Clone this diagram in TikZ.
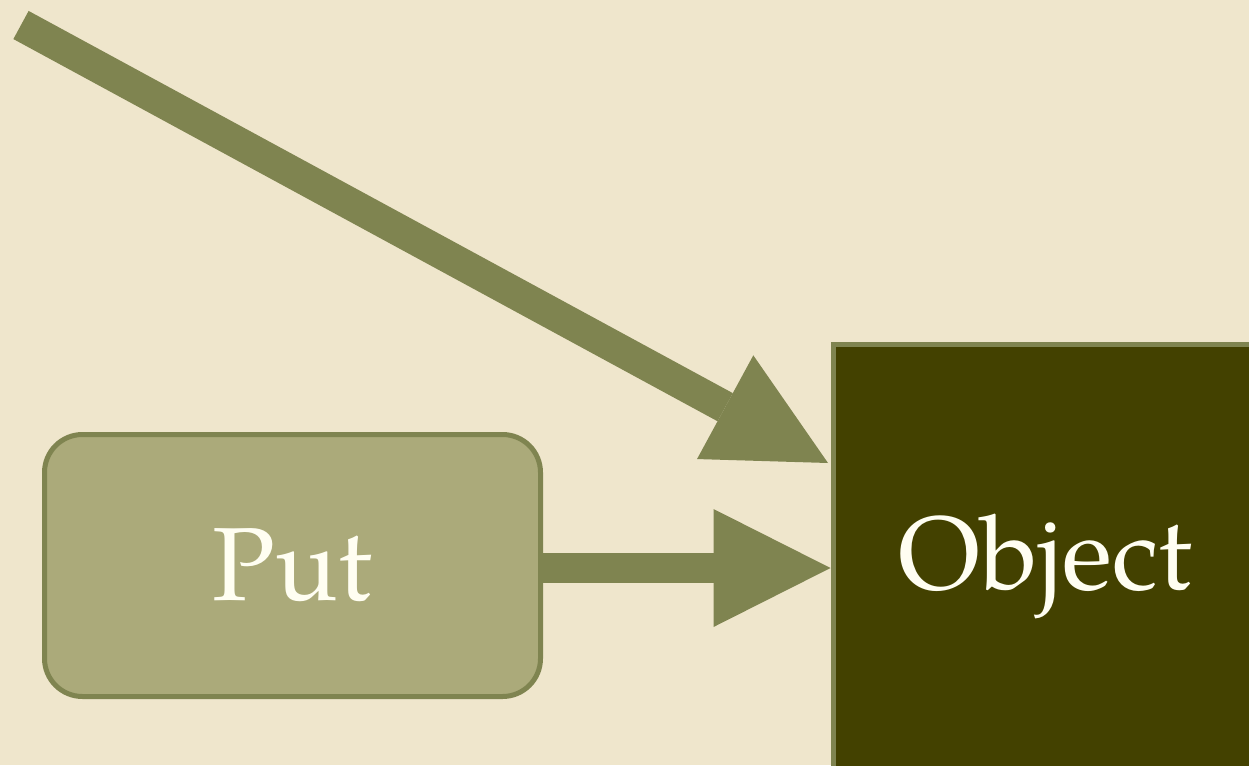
\documentclass[tikz,border=0pt]{standalone}
\usepackage{fontspec}
\setmainfont{texgyrepagella-regular.otf}
\usetikzlibrary{arrows.meta}
\definecolor{bg}{HTML}{EFE6CC}
\definecolor{arrowc}{HTML}{7F8450}
\definecolor{putfill}{HTML}{ABAA7A}
\definecolor{objfill}{HTML}{434100}
\definecolor{txt}{HTML}{FFFEF2}
\tikzset{
  putbox/.style={draw=arrowc, line width=5pt, fill=putfill, rounded corners=38pt,
    minimum width=496pt, minimum height=262pt, inner sep=0pt,
    text=txt, font=\fontsize{104}{120}\selectfont},
  objbox/.style={draw=arrowc, line width=5pt, fill=objfill,
    minimum width=425pt, minimum height=444pt, inner sep=0pt,
    text=txt, font=\fontsize{104}{120}\selectfont},
  bigarrow/.style={draw=arrowc, line width=30pt,
    -{Triangle[length=117pt, width=118pt, line width=0pt]}, arrowc}
}
\begin{document}
\begin{tikzpicture}[x=1pt,y=-1pt]
\fill[bg] (0,0) rectangle (1249,765);
\useasboundingbox (0,0) rectangle (1249,765);
\node[putbox] (put) at (292.5,565.5) {Put};
\node[objbox, anchor=north west] (obj) at (830.5,341.5) {Object};
\coordinate (start) at (21,25);
\coordinate (tip) at (828,463);
\draw[bigarrow, line width=32pt] (start) -- (tip);
\draw[bigarrow] (put.east |- 0,568) -- (obj.west |- 0,568);
\end{tikzpicture}
\end{document}
